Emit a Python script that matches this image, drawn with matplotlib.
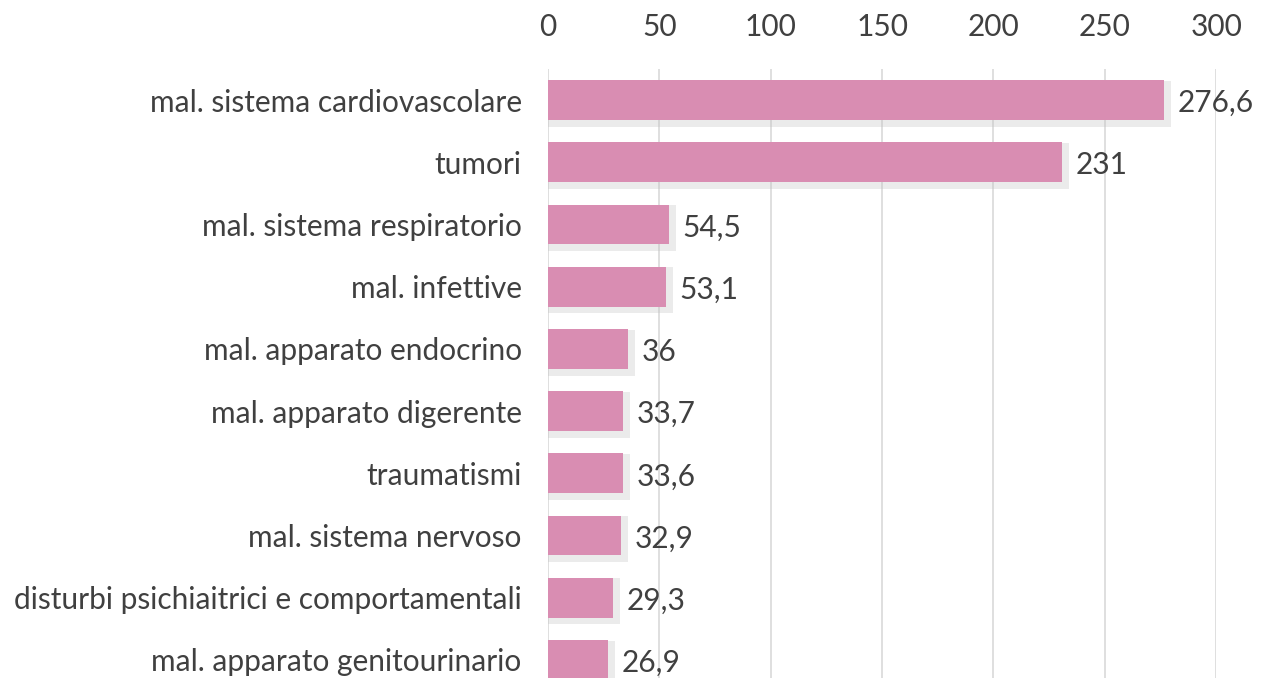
import matplotlib.pyplot as plt

categories = [
    "mal. sistema cardiovascolare",
    "tumori",
    "mal. sistema respiratorio",
    "mal. infettive",
    "mal. apparato endocrino",
    "mal. apparato digerente",
    "traumatismi",
    "mal. sistema nervoso",
    "disturbi psichiaitrici e comportamentali",
    "mal. apparato genitourinario",
]
values = [276.6, 231, 54.5, 53.1, 36, 33.7, 33.6, 32.9, 29.3, 26.9]
labels = ["276,6", "231", "54,5", "53,1", "36", "33,7", "33,6", "32,9", "29,3", "26,9"]
x_ticks = [0, 50, 100, 150, 200, 250, 300]

plt.rcParams['font.family'] = ['Lato', 'DejaVu Sans']
text_color = '#404040'
fs = 21.5

fig = plt.figure(figsize=(12.66, 6.78), dpi=100)
ax = fig.add_axes([0.4329, -0.0192, 0.5277, 0.9174])

y = list(range(len(categories)))
# soft shadow behind bars
ax.barh([v + 0.06 for v in y], [v + 3 for v in values], height=0.74,
        color='#bfbfbf', alpha=0.3, zorder=2)
ax.barh(y, values, height=0.64, color='#d98db2', zorder=3)

for yi, v, lab in zip(y, values, labels):
    ax.text(v + 6, yi + 0.05, lab, va='center', ha='left', fontsize=fs, color=text_color)

ax.set_xlim(0, 300)
ax.set_ylim(len(categories) - 0.5, -0.5)
ax.set_yticks(y)
ax.set_yticklabels(categories, fontsize=fs, color=text_color)
ax.set_xticks(x_ticks)
ax.set_xticklabels([str(t) for t in x_ticks], fontsize=fs, color=text_color)
ax.xaxis.tick_top()
ax.tick_params(axis='x', length=0, pad=20)
ax.tick_params(axis='y', length=0, pad=19)
ax.grid(axis='x', color='#d9d9d9', linewidth=1.2, zorder=0)
for s in ax.spines.values():
    s.set_visible(False)

plt.savefig('out.png', dpi=100)
